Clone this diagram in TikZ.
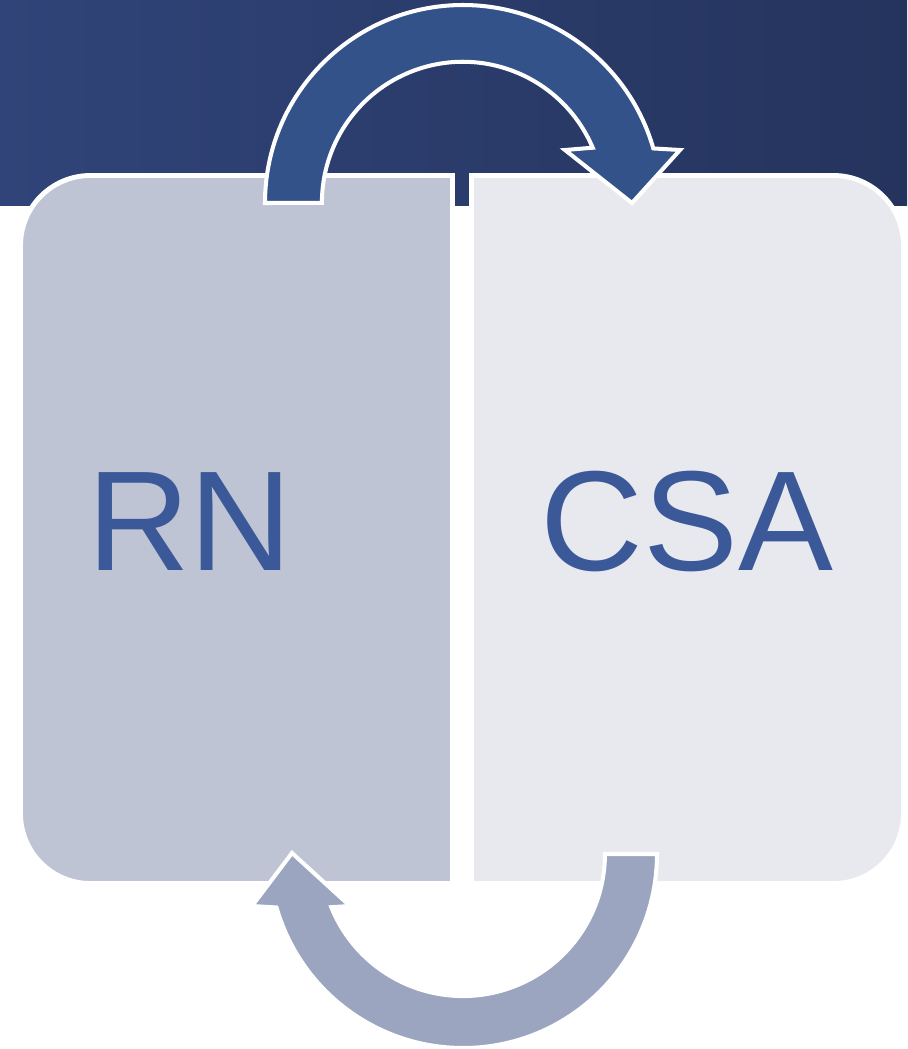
\documentclass[tikz,border=0pt]{standalone}
\usepackage{fontspec}
\setmainfont{Liberation Sans}
\definecolor{bandleft}{RGB}{48,68,121}
\definecolor{bandright}{RGB}{37,52,93}
\definecolor{rnfill}{RGB}{190,196,211}
\definecolor{csafill}{RGB}{232,233,239}
\definecolor{toparrow}{RGB}{52,82,138}
\definecolor{botarrow}{RGB}{156,165,192}
\definecolor{textblue}{RGB}{59,89,152}
\tikzset{
  panel/.style={draw=white, line width=2.8pt},
  turnarrow/.style={draw=white, line width=2.3pt, line join=miter},
  bigtext/.style={text=textblue, inner sep=0pt, font=\fontsize{81}{81}\selectfont}
}
\begin{document}
\begin{tikzpicture}[x=0.02cm, y=-0.02cm]
  \useasboundingbox (0,0) rectangle (907,1049);

  %bandeau
  \shade[left color=bandleft, right color=bandright] (0,0) rectangle (907,205);

  %panneaux
  \draw[panel, fill=rnfill] (452.5,175.5) -- (90.5,175.5) arc (270:180:70) -- (20.5,813.5) arc (180:90:70) -- (452.5,883.5) -- cycle;
  \draw[panel, fill=csafill] (471.5,175.5) -- (833.5,175.5) arc (270:360:70) -- (903.5,813.5) arc (0:90:70) -- (471.5,883.5) -- cycle;

  %fleche haut
  \draw[turnarrow, fill=toparrow] (265,203) arc (180:344:198) -- (680,150) -- (632,203) -- (565,150) -- (592.7,147.7) arc (337:180:141) -- cycle;
  %fleche bas
  \draw[turnarrow, fill=botarrow] (657,854) arc (0:164:194) -- (252,906) -- (292,853) -- (350,906) -- (331.3,907.2) arc (158:0:142) -- cycle;

  %texte
  \node[bigtext] (rn) at (190,522) {RN};
  \node[bigtext] (csa) at (687,522) {CSA};
\end{tikzpicture}
\end{document}
